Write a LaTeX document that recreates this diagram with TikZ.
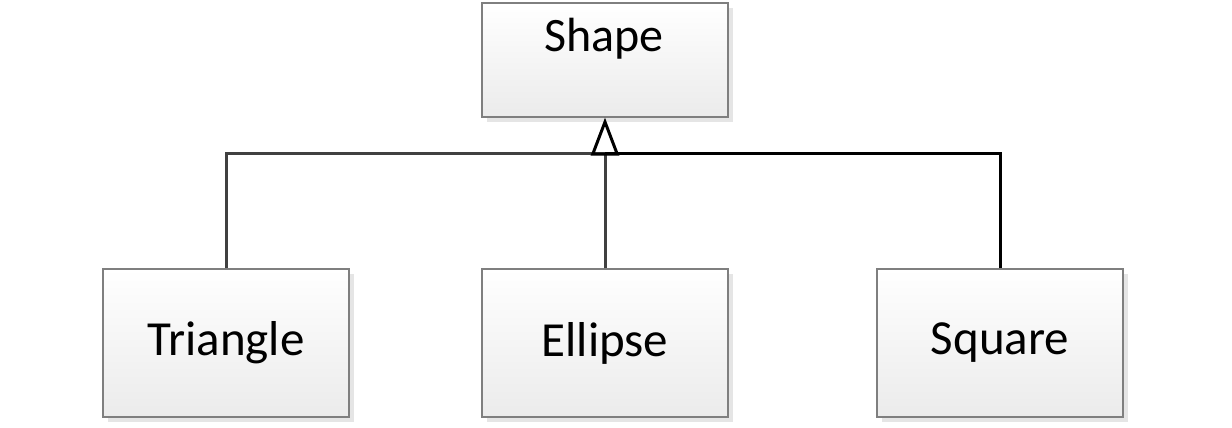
\documentclass[tikz,border=0pt]{standalone}
\usepackage{fontspec}
\setmainfont{Carlito}
\usetikzlibrary{shadows,arrows.meta}
\definecolor{boxline}{HTML}{7F7F7F}
\definecolor{boxbot}{HTML}{EBEBEB}
\definecolor{darkline}{HTML}{404040}
\begin{document}
\begin{tikzpicture}[x=1pt,y=-1pt,
  umlbox/.style={draw=boxline, line width=1.2pt, top color=white, bottom color=boxbot,
    minimum width=246pt, minimum height=148pt, inner sep=0pt,
    drop shadow={shadow xshift=5pt, shadow yshift=-5pt, fill=black!10, opacity=1},
    font=\fontsize{49}{53}\selectfont},
  link/.style={line width=3pt},
]
\useasboundingbox (0,0) rectangle (1232,428);
\node[umlbox, minimum height=114pt] (shape) at (605,60) {};
\node[anchor=base, inner sep=0pt, font=\fontsize{48}{52}\selectfont] (shapetext) at (604,52) {Shape};
\node[umlbox] (tri) at (226,343) {Triangle};
\node[umlbox] (ell) at (605,343) {Ellipse};
\node[umlbox] (sq) at (1000,343) {Square};
\coordinate (hub) at (605,153);
\draw[link, darkline] (tri.north) |- (hub);
\draw[link, darkline] (ell.north) -- (hub);
\draw[link, black] (sq.north) |- (hub);
\draw[link, black, -{Triangle[open, length=38pt, width=28pt, line width=3pt]}] (hub) -- (shape.south);
\end{tikzpicture}
\end{document}
